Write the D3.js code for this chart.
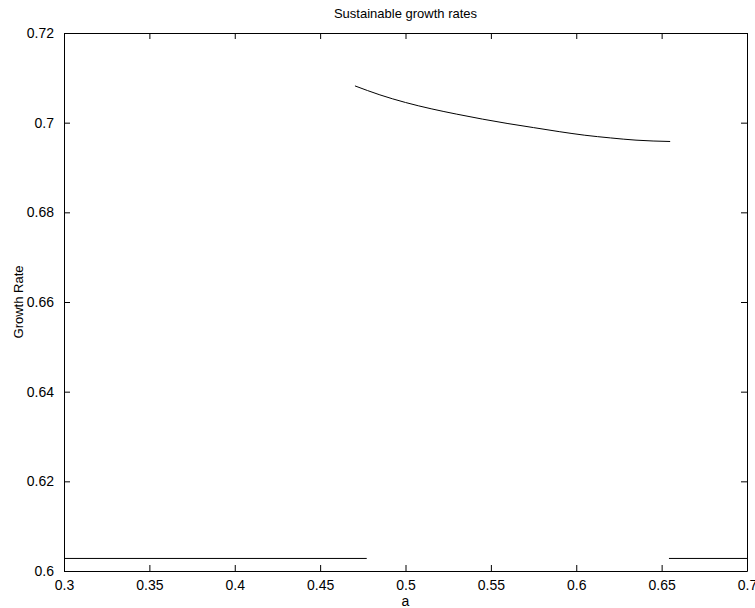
<!DOCTYPE html>
<html>
<head>
<meta charset="utf-8">
<script src="https://cdn.jsdelivr.net/npm/d3@7"></script>
<style>
  body { margin: 0; background: #fff; }
  text { font-family: "Liberation Sans", Arial, sans-serif; fill: #000; }
</style>
</head>
<body>
<div id="chart"></div>
<script>
/* ---------------- Data ---------------- */
// upper branch (curve)
var upperA = [0.4704, 0.485, 0.500, 0.515, 0.530, 0.545, 0.560, 0.575, 0.590, 0.605, 0.620, 0.635, 0.655];
var upperG = [0.7082, 0.7062, 0.7045, 0.7031, 0.7019, 0.7008, 0.6998, 0.6989, 0.6980, 0.6972, 0.6966, 0.6961, 0.6958];
// lower branch, left and right pieces
var lowLeftA = [0.3, 0.4773];
var lowLeftG = [0.6028, 0.6028];
var lowRightA = [0.6543, 0.7];
var lowRightG = [0.6028, 0.6028];

var xTicks = [0.3, 0.35, 0.4, 0.45, 0.5, 0.55, 0.6, 0.65, 0.7];
var yTicks = [0.6, 0.62, 0.64, 0.66, 0.68, 0.7, 0.72];

var title = "Sustainable growth rates",
    xTitle = "a",
    yTitle = "Growth Rate";

/* ---------------- Layout ---------------- */
var W = 755, H = 608;
var margin = {top: 33, right: 8, bottom: 37, left: 64},
    width = W - margin.left - margin.right,
    height = H - margin.top - margin.bottom,
    fontSize = 14,
    tickLen = 6;

var svg = d3.select("#chart").append("svg")
    .attr("width", W)
    .attr("height", H);

var chart = svg.append("g")
    .attr("transform", "translate(" + margin.left + "," + margin.top + ")");

var x = d3.scaleLinear().domain([0.3, 0.7]).range([0, width]);
var y = d3.scaleLinear().domain([0.6, 0.72]).range([height, 0]);

function zip(a, g) {
    return a.map(function(v, i) { return [v, g[i]]; });
}

var line = d3.line()
    .x(function(d) { return x(d[0]); })
    .y(function(d) { return y(d[1]); })
    .curve(d3.curveMonotoneX);

/* lines */
[zip(upperA, upperG), zip(lowLeftA, lowLeftG), zip(lowRightA, lowRightG)].forEach(function(s) {
    chart.append("path")
        .datum(s)
        .attr("fill", "none")
        .attr("stroke", "#000")
        .attr("stroke-width", 1)
        .attr("d", line);
});

/* axes: MATLAB-like box with inward ticks */
var fmt = function(d) { return String(+d.toFixed(4)); };

var xAxisB = d3.axisBottom(x).tickValues(xTicks).tickFormat(fmt)
    .tickSizeInner(-tickLen).tickSizeOuter(0).tickPadding(9);
var xAxisT = d3.axisTop(x).tickValues(xTicks).tickFormat("")
    .tickSizeInner(-tickLen).tickSizeOuter(0);
var yAxisL = d3.axisLeft(y).tickValues(yTicks).tickFormat(fmt)
    .tickSizeInner(-tickLen).tickSizeOuter(0).tickPadding(10);
var yAxisR = d3.axisRight(y).tickValues(yTicks).tickFormat("")
    .tickSizeInner(-tickLen).tickSizeOuter(0);

function style(g) {
    g.selectAll(".domain").attr("stroke", "#000").attr("stroke-width", 1);
    g.selectAll(".tick line").attr("stroke", "#000");
    g.selectAll(".tick text")
        .attr("font-size", fontSize)
        .attr("font-family", "Liberation Sans, Arial, sans-serif")
        .attr("fill", "#000");
}

chart.append("g").attr("transform", "translate(0," + height + ")").call(xAxisB).call(style);
chart.append("g").call(xAxisT).call(style);
chart.append("g").call(yAxisL).call(style);
chart.append("g").attr("transform", "translate(" + width + ",0)").call(yAxisR).call(style);

/* titles */
svg.append("text")
    .attr("x", margin.left + width / 2)
    .attr("y", 18)
    .attr("text-anchor", "middle")
    .attr("font-size", fontSize - 1)
    .text(title);

svg.append("text")
    .attr("x", margin.left + width / 2)
    .attr("y", 606)
    .attr("text-anchor", "middle")
    .attr("font-size", fontSize)
    .text(xTitle);

svg.append("text")
    .attr("transform", "translate(23," + (margin.top + height / 2) + ")rotate(-90)")
    .attr("text-anchor", "middle")
    .attr("font-size", fontSize - 1)
    .text(yTitle);
</script>
</body>
</html>
